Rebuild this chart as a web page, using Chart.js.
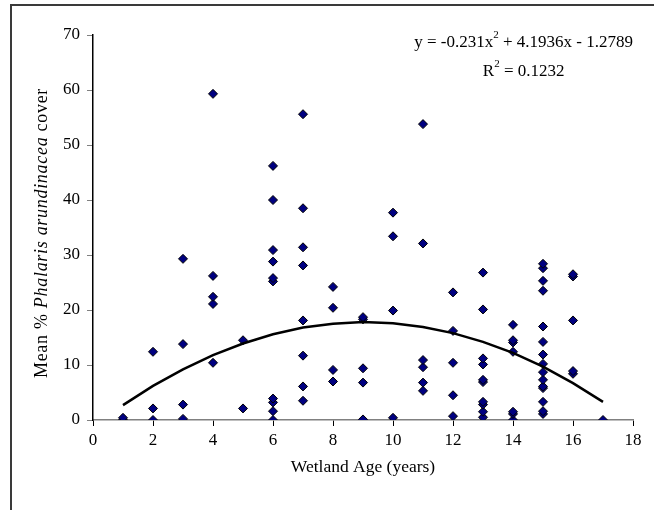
<!DOCTYPE html>
<html>
<head>
<meta charset="utf-8">
<script src="https://cdn.jsdelivr.net/npm/chart.js@4.4.1/dist/chart.umd.min.js"></script>
<style>
	html, body { margin: 0; padding: 0; background: #fff; overflow: hidden; }
	#wrap { position: relative; width: 654px; height: 510px; }
	#frame { position: absolute; left: 10px; top: 4px; width: 700px; height: 600px; border-left: 2px solid #3a3a3a; border-top: 2px solid #3a3a3a; }
	canvas { position: absolute; left: 0; top: 0; }
</style>
</head>
<body>
<div id="wrap">
	<div id="frame"></div>
	<canvas id="chart" width="654" height="510"></canvas>
</div>
<script>
// wetland age (years) and mean % cover of each wetland at that age
var ages = [1, 2, 3, 4, 5, 6, 7, 8, 9, 10, 11, 12, 13, 14, 15, 16, 17];
var coverByAge = [
	[0, 0.4],
	[0, 2.1, 12.4],
	[0.2, 2.8, 13.8, 29.3],
	[10.4, 21.1, 22.4, 26.2, 59.3],
	[2.1, 14.5],
	[0, 1.6, 3.2, 3.9, 25.2, 25.8, 28.8, 30.9, 40.0, 46.2],
	[3.5, 6.1, 11.7, 18.1, 28.1, 31.4, 38.5, 55.6],
	[7.0, 9.1, 20.4, 24.2],
	[0.1, 6.8, 9.4, 18.3, 18.7],
	[0.4, 19.9, 33.4, 37.7],
	[5.3, 6.8, 9.6, 10.9, 32.1, 53.8],
	[0.7, 4.5, 10.4, 16.2, 23.2],
	[0.5, 1.5, 2.8, 3.3, 6.9, 7.3, 10.1, 11.2, 20.1, 26.8],
	[0, 1.1, 1.5, 12.4, 14.1, 14.5, 17.3],
	[1.1, 1.6, 3.3, 5.8, 6.1, 7.3, 8.7, 10.2, 11.9, 14.2, 17.0, 23.5, 25.3, 27.6, 28.4],
	[8.4, 8.9, 18.1, 26.1, 26.5],
	[0]
];
// polynomial trendline, one value per age
var trendValues = [2.7, 6.2, 9.2, 11.8, 13.9, 15.6, 16.8, 17.5, 17.8, 17.6, 16.9, 15.8, 14.2, 12.2, 9.7, 6.7, 3.3];

var xTitle = 'Wetland Age (years)';
var yTitleParts = [['Mean % ', false], ['Phalaris arundinacea', true], [' cover', false]];
var eqLine1 = [['y = -0.231x', 0], ['2', 1], [' + 4.1936x - 1.2789', 0]];
var eqLine2 = [['R', 0], ['2', 1], [' = 0.1232', 0]];

var serif = '"Liberation Serif", "Times New Roman", serif';

var points = [];
ages.forEach(function (age, i) {
	coverByAge[i].forEach(function (v) {
		points.push({ x: age, y: v });
	});
});
var trend = ages.map(function (age, i) { return { x: age, y: trendValues[i] }; });

// draws the rich text pieces: axis titles and the equation box
var textPlugin = {
	id: 'texts',
	afterDraw: function (chart) {
		var ctx = chart.ctx;
		var area = chart.chartArea;
		ctx.save();
		ctx.fillStyle = '#000';
		ctx.textBaseline = 'alphabetic';

		// y title, mixed italic, a little spaced out like the original
		var fs = 18;
		ctx.letterSpacing = '0.7px';
		var widths = yTitleParts.map(function (p) {
			ctx.font = (p[1] ? 'italic ' : '') + fs + 'px ' + serif;
			return ctx.measureText(p[0]).width;
		});
		var total = widths.reduce(function (a, b) { return a + b; }, 0);
		ctx.translate(47, 233);
		ctx.rotate(-Math.PI / 2);
		var cx = -total / 2;
		yTitleParts.forEach(function (p, i) {
			ctx.font = (p[1] ? 'italic ' : '') + fs + 'px ' + serif;
			ctx.fillText(p[0], cx, 0);
			cx += widths[i];
		});
		ctx.setTransform(1, 0, 0, 1, 0, 0);
		ctx.letterSpacing = '0px';

		// x title
		ctx.font = '17.5px ' + serif;
		ctx.textAlign = 'center';
		ctx.fillText(xTitle, (area.left + area.right) / 2, 472);
		ctx.textAlign = 'left';

		// equation, centred lines with superscripts
		var es = 17;
		function lineWidth(parts) {
			var w = 0;
			parts.forEach(function (p) {
				ctx.font = (p[1] ? 11 : es) + 'px ' + serif;
				w += ctx.measureText(p[0]).width;
			});
			return w;
		}
		function drawLine(parts, centre, base) {
			var x = centre - lineWidth(parts) / 2;
			parts.forEach(function (p) {
				ctx.font = (p[1] ? 11 : es) + 'px ' + serif;
				ctx.fillText(p[0], x, p[1] ? base - 9 : base);
				x += ctx.measureText(p[0]).width;
			});
		}
		var w1 = lineWidth(eqLine1);
		var centre = 633 - w1 / 2;
		drawLine(eqLine1, centre, 47);
		drawLine(eqLine2, centre, 76);
		ctx.restore();
	}
};

new Chart(document.getElementById('chart'), {
	type: 'scatter',
	data: {
		datasets: [{
			type: 'line',
			data: trend,
			borderColor: '#000',
			borderWidth: 2.5,
			pointRadius: 0,
			tension: 0,
			fill: false
		}, {
			data: points,
			pointStyle: 'rectRot',
			pointRadius: 4.5,
			pointBackgroundColor: '#000080',
			pointBorderColor: '#000',
			pointBorderWidth: 1
		}]
	},
	options: {
		responsive: false,
		animation: false,
		events: [],
		layout: { padding: { left: 0, top: 35, right: 21, bottom: 0 } },
		plugins: {
			legend: { display: false },
			tooltip: { enabled: false }
		},
		scales: {
			x: {
				type: 'linear',
				min: 0,
				max: 18,
				afterFit: function (s) { s.height = 90; },
				ticks: { stepSize: 2, color: '#000', padding: 4, font: { family: serif, size: 17 } },
				grid: { drawOnChartArea: false, drawTicks: true, tickLength: 6, color: '#000' },
				border: { display: true, color: '#808080', width: 1.5 }
			},
			y: {
				min: 0,
				max: 70,
				afterFit: function (s) { s.width = 93; },
				ticks: { stepSize: 10, color: '#000', padding: 7, font: { family: serif, size: 17 } },
				grid: { drawOnChartArea: false, drawTicks: true, tickLength: 6, color: '#808080' },
				border: { display: true, color: '#000', width: 1.5 }
			}
		}
	},
	plugins: [textPlugin]
});
</script>
</body>
</html>
